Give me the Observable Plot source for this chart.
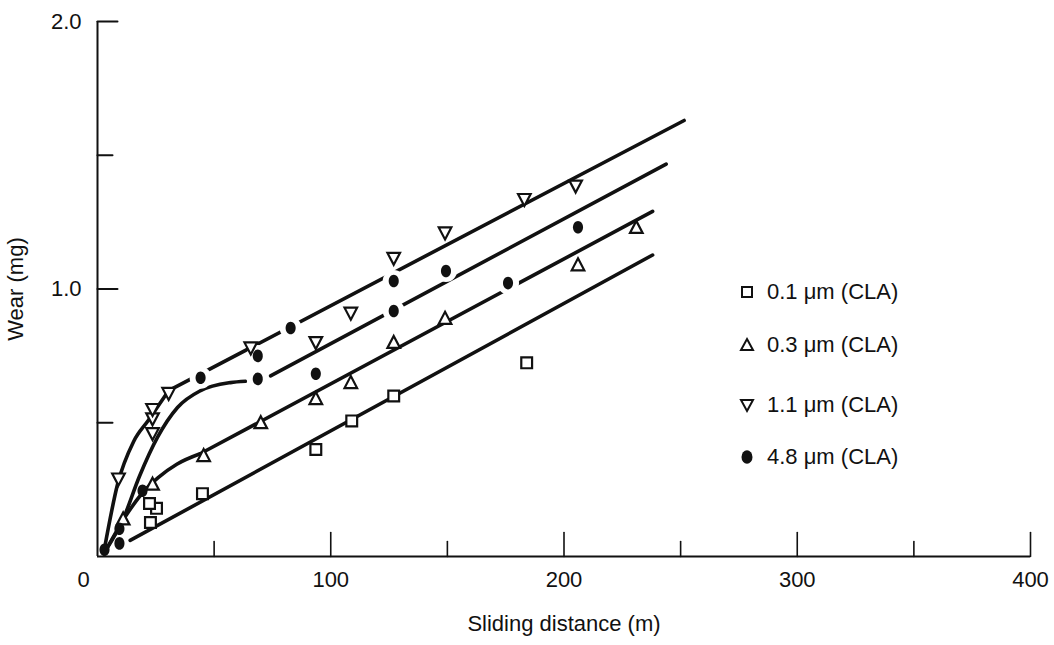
<!DOCTYPE html>
<html>
<head>
<meta charset="utf-8">
<script src="https://cdn.jsdelivr.net/npm/d3@7"></script>
<script src="https://cdn.jsdelivr.net/npm/@observablehq/plot@0.6"></script>
<style>
  html, body { margin: 0; padding: 0; background: #fff; }
  #wrap { position: relative; width: 1054px; height: 645px; font-family: "Liberation Sans", Arial, sans-serif; color: #111; }
  .lg { position: absolute; display: flex; align-items: center; font-size: 22px; line-height: 26px; white-space: nowrap; }
  .lg svg { margin-right: 12px; overflow: visible; }
</style>
</head>
<body>
<div id="wrap"></div>
<script>
// ---------- data ----------
const xLabelTicks = [0, 100, 200, 300, 400];
const xMinorTicks = [50, 150, 250, 350];
const yLabelTicks = [1.0, 2.0];
const yMinorTicks = [0.5, 1.5];

const seriesNames = ["0.1 \u03bcm (CLA)", "0.3 \u03bcm (CLA)", "1.1 \u03bcm (CLA)", "4.8 \u03bcm (CLA)"];

// measured points
const sq01X = [22.7, 25.3, 22.3, 45.0, 93.6, 109.0, 127.0, 184.0];
const sq01Y = [0.127, 0.180, 0.198, 0.235, 0.400, 0.507, 0.600, 0.724];

const tri03X = [11.0, 23.6, 45.5, 70.0, 93.6, 108.6, 127.0, 149.0, 206.0, 231.0];
const tri03Y = [0.140, 0.270, 0.377, 0.500, 0.590, 0.650, 0.800, 0.890, 1.090, 1.230];

const tri11X = [9.0, 23.6, 23.6, 23.6, 30.5, 65.7, 93.6, 108.6, 127.0, 149.0, 183.0, 205.0];
const tri11Y = [0.290, 0.460, 0.515, 0.550, 0.610, 0.780, 0.800, 0.910, 1.115, 1.210, 1.335, 1.385];

const dot48X = [3.0, 9.4, 9.4, 19.3, 44.2, 68.7, 68.7, 82.8, 93.6, 127.0, 127.0, 149.4, 176.0, 206.0];
const dot48Y = [0.025, 0.049, 0.104, 0.246, 0.668, 0.664, 0.750, 0.854, 0.683, 0.918, 1.030, 1.067, 1.022, 1.231];

// fitted curves: curved run-in part, then straight part
const fit01LineX = [14, 238];
const fit01LineY = [0.060, 1.127];

const fit03CurveX = [4, 12, 20, 26, 34, 44];
const fit03CurveY = [0.030, 0.150, 0.245, 0.295, 0.345, 0.384];
const fit03LineX = [44, 238];
const fit03LineY = [0.384, 1.290];

const fit11CurveX = [3, 8.6, 15.5, 21.9, 30.5];
const fit11CurveY = [0.030, 0.270, 0.430, 0.510, 0.620];
const fit11LineX = [30.5, 251.5];
const fit11LineY = [0.620, 1.630];

const fit48CurveX = [4, 10.7, 18, 25.7, 34.3, 44.2, 57, 63.5];
const fit48CurveY = [0.030, 0.134, 0.300, 0.445, 0.557, 0.620, 0.650, 0.655];
const fit48LineX = [74.2, 243.8];
const fit48LineY = [0.675, 1.467];

// ---------- helpers ----------
const rows = (xs, ys) => xs.map((x, i) => ({x, y: ys[i]}));
const INK = "#111";

function rOf(size) { return Math.sqrt(size / Math.PI); }
const symSquare = {draw(c, size) { const s = 0.9 * rOf(size); c.moveTo(-s, -s); c.lineTo(s, -s); c.lineTo(s, s); c.lineTo(-s, s); c.closePath(); }};
const symTriUp = {draw(c, size) { const r = rOf(size); c.moveTo(0, -1.1 * r); c.lineTo(1.05 * r, 0.9 * r); c.lineTo(-1.05 * r, 0.9 * r); c.closePath(); }};
const symTriDown = {draw(c, size) { const r = rOf(size); c.moveTo(0, 1.1 * r); c.lineTo(1.05 * r, -0.9 * r); c.lineTo(-1.05 * r, -0.9 * r); c.closePath(); }};
const symEllipse = {draw(c, size) {
  const r = rOf(size), rx = 0.9 * r, ry = 1.12 * r, k = 0.5523;
  c.moveTo(0, -ry);
  c.bezierCurveTo(k * rx, -ry, rx, -k * ry, rx, 0);
  c.bezierCurveTo(rx, k * ry, k * rx, ry, 0, ry);
  c.bezierCurveTo(-k * rx, ry, -rx, k * ry, -rx, 0);
  c.bezierCurveTo(-rx, -k * ry, -k * rx, -ry, 0, -ry);
  c.closePath();
}};

const tickShape = {draw(c, l) { c.moveTo(0, 0); c.lineTo(0, -l); }};

const curves = [rows(fit03CurveX, fit03CurveY), rows(fit11CurveX, fit11CurveY), rows(fit48CurveX, fit48CurveY)];
const straights = [rows(fit01LineX, fit01LineY), rows(fit03LineX, fit03LineY), rows(fit11LineX, fit11LineY), rows(fit48LineX, fit48LineY)];
const pts01 = rows(sq01X, sq01Y), pts03 = rows(tri03X, tri03Y), pts11 = rows(tri11X, tri11Y), pts48 = rows(dot48X, dot48Y);

const lineStyle = {x: "x", y: "y", stroke: INK, strokeWidth: 3.6, strokeLinecap: "round"};

const chart = Plot.plot({
  width: 1054,
  height: 645,
  marginLeft: 97,
  marginRight: 24,
  marginTop: 21,
  marginBottom: 89,
  style: {fontFamily: "Liberation Sans, Arial, sans-serif", color: INK, background: "white"},
  x: {domain: [0, 400]},
  y: {domain: [0, 2]},
  marks: [
    // axis lines
    Plot.ruleY([0], {stroke: INK, strokeWidth: 2}),
    Plot.ruleX([0], {stroke: INK, strokeWidth: 2}),
    // inward ticks
    Plot.vector(xLabelTicks.slice(1), {x: d => d, frameAnchor: "bottom", length: 24, anchor: "start", shape: tickShape, stroke: INK, strokeWidth: 1.6}),
    Plot.vector(xMinorTicks, {x: d => d, frameAnchor: "bottom", length: 15, anchor: "start", shape: tickShape, stroke: INK, strokeWidth: 1.6}),
    Plot.vector(yLabelTicks, {y: d => d, frameAnchor: "left", length: 20, rotate: 90, anchor: "start", shape: tickShape, stroke: INK, strokeWidth: 2}),
    Plot.vector(yMinorTicks, {y: d => d, frameAnchor: "left", length: 15, rotate: 90, anchor: "start", shape: tickShape, stroke: INK, strokeWidth: 2}),
    // tick labels and titles
    Plot.axisX({ticks: xLabelTicks.slice(0, 1), tickSize: 0, tickPadding: 15, fontSize: 22, dx: -14, tickFormat: d => String(d), label: null}),
    Plot.axisX({ticks: xLabelTicks.slice(1), tickSize: 0, tickPadding: 15, fontSize: 22, tickFormat: d => String(d),
      label: "Sliding distance (m)", labelAnchor: "center", labelArrow: "none", labelOffset: 74}),
    Plot.axisY({ticks: yLabelTicks, tickSize: 0, tickPadding: 16, fontSize: 22, tickFormat: d3.format(".1f"),
      label: "Wear (mg)", labelAnchor: "center", labelArrow: "none", labelOffset: 90}),
    // fitted curves
    ...curves.map(f => Plot.line(f, {...lineStyle, curve: "monotone-x"})),
    ...straights.map(f => Plot.line(f, {...lineStyle, curve: "linear"})),
    // white halos that break the lines around filled circles
    Plot.dot(pts48, {x: "x", y: "y", r: 11, fill: "white", filter: d => d.x > 30}),
    // markers
    Plot.dot(pts01, {x: "x", y: "y", symbol: symSquare, r: 6, fill: "white", stroke: INK, strokeWidth: 2.2}),
    Plot.dot(pts03, {x: "x", y: "y", symbol: symTriUp, r: 6, fill: "white", stroke: INK, strokeWidth: 2.2}),
    Plot.dot(pts11, {x: "x", y: "y", symbol: symTriDown, r: 6, fill: "white", stroke: INK, strokeWidth: 2.2}),
    Plot.dot(pts48, {x: "x", y: "y", symbol: symEllipse, r: 5.6, fill: INK, stroke: "none"})
  ]
});

const wrap = document.getElementById("wrap");
wrap.appendChild(chart);

// legend (inside plot area, as in the original figure)
const legendSyms = [
  '<rect x="-5" y="-5" width="10" height="10" fill="white" stroke="#111" stroke-width="2"/>',
  '<path d="M0,-6 L6,5 L-6,5 Z" fill="white" stroke="#111" stroke-width="2"/>',
  '<path d="M0,6 L6,-5 L-6,-5 Z" fill="white" stroke="#111" stroke-width="2"/>',
  '<ellipse cx="0" cy="0" rx="5.5" ry="6.8" fill="#111"/>'
];
const legendTops = [279, 332, 392, 444];
const legend = document.createElement("div");
seriesNames.forEach((name, i) => {
  const row = document.createElement("div");
  row.className = "lg";
  row.style.left = "739px";
  row.style.top = legendTops[i] + "px";
  row.innerHTML = `<svg width="16" height="16" viewBox="-8 -8 16 16">${legendSyms[i]}</svg><span>${name}</span>`;
  legend.appendChild(row);
});
wrap.appendChild(legend);
</script>
</body>
</html>
